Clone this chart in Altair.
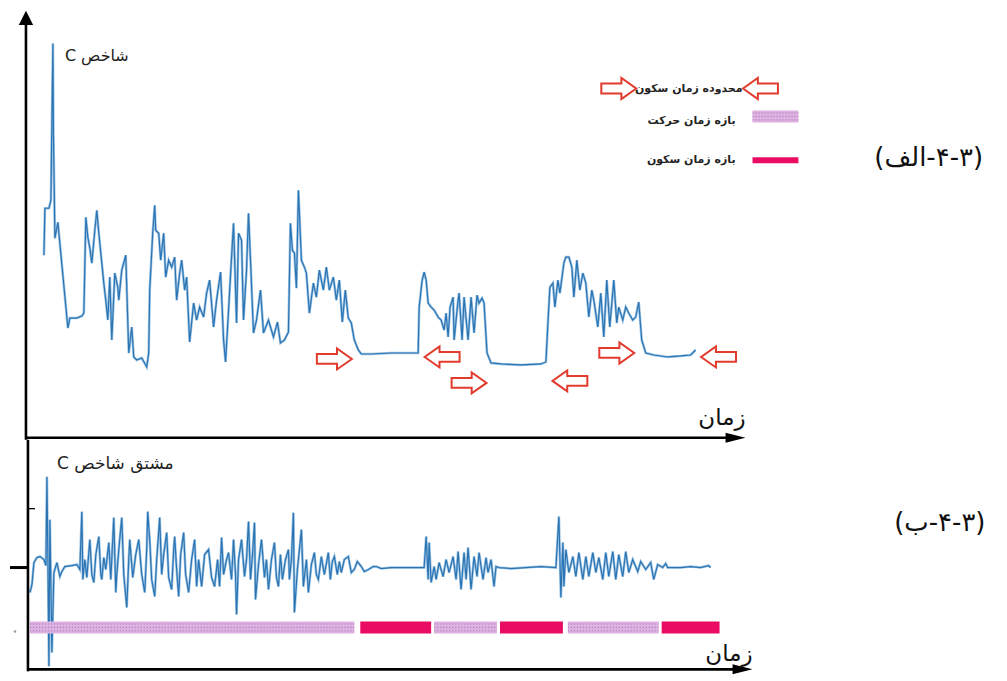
import altair as alt
import pandas as pd

# ---------------- data ----------------
# upper panel: index C over time (time in arbitrary units, C above the time axis)
top_t = [42, 43, 47, 49, 51, 51.5, 53, 56, 57, 66, 68, 75, 80, 82, 84, 86, 88, 90, 93, 95,
         97, 100, 102, 104, 106, 108, 110, 113, 116, 117, 120, 124, 127, 130, 132, 135, 140, 145, 147, 148,
         151, 153, 154, 157, 159, 162, 164, 167, 170, 173, 175, 178, 180, 183, 185, 188, 192, 195, 198, 202,
         205, 208, 212, 215, 219, 222, 224, 227, 230, 232, 235, 237, 240, 242, 245, 247, 249, 252, 255, 259,
         262, 267, 272, 276, 279, 283, 287, 289, 291, 293, 295, 297, 300, 303, 305, 308, 312, 315, 318, 322,
         325, 328, 332, 335, 338, 341, 344, 347, 350, 353, 357, 360, 370, 390, 417,
         418, 421, 423, 425, 427, 430, 433, 437, 440, 443, 445, 447, 449, 452, 453, 457, 458, 461, 463, 467,
         470, 473, 476, 478, 481, 483, 486, 490, 500, 520, 540, 545,
         547, 549, 552, 554, 557, 559, 563, 565, 568, 571, 573, 576, 579, 582, 585, 588, 591, 593, 597, 600,
         603, 606, 609, 613, 616, 618, 622, 625, 628, 632, 635, 638, 641, 645, 653, 667, 680, 690, 695]
top_c = [183, 230, 230, 238, 395, 308, 200, 216, 205, 110, 120, 120, 122, 125, 221, 201, 190, 175, 208, 228,
         205, 175, 155, 138, 118, 161, 98, 165, 151, 138, 168, 183, 85, 111, 81, 78, 80, 71, 85, 148,
         205, 233, 208, 205, 178, 205, 161, 178, 171, 181, 138, 165, 178, 148, 161, 96, 135, 118, 131, 121,
         145, 158, 111, 138, 166, 98, 76, 128, 181, 215, 115, 205, 198, 118, 168, 225, 178, 105, 118, 148,
         105, 118, 101, 116, 95, 98, 106, 215, 188, 185, 150, 248, 178, 171, 165, 125, 155, 141, 168, 148,
         171, 148, 161, 138, 158, 116, 148, 120, 115, 98, 88, 84, 84, 85, 85,
         131, 158, 166, 158, 135, 131, 128, 121, 118, 108, 125, 101, 131, 141, 98, 138, 145, 98, 141, 98,
         141, 105, 143, 135, 140, 135, 85, 75, 74, 73, 74, 76,
         115, 151, 155, 131, 158, 145, 175, 181, 181, 171, 141, 178, 148, 165, 155, 121, 148, 138, 111, 145,
         101, 158, 111, 158, 115, 131, 118, 131, 125, 118, 121, 136, 98, 85, 83, 81, 82, 83, 88]

# lower panel: derivative of index C (zero at the middle tick)
bot_t = [28, 30, 32, 35, 38, 42, 44, 45, 46, 47, 48, 50, 52, 55, 58, 60, 63, 70, 75, 78,
         80, 81, 83, 85, 88, 90, 92, 94, 97, 99, 100, 102, 104, 107, 109, 112, 114, 115, 117, 120,
         122, 125, 127, 128, 131, 134, 137, 140, 143, 145, 146, 148, 150, 153, 155, 158, 160, 162, 165, 167,
         170, 172, 173, 175, 177, 179, 182, 184, 187, 190, 193, 195, 197, 200, 203, 207, 210, 213, 216, 218,
         220, 222, 225, 227, 230, 232, 234, 235, 237, 240, 243, 245, 247, 249, 251, 253, 254, 257, 260, 263,
         265, 267, 270, 273, 275, 277, 279, 281, 284, 287, 288, 290, 292, 293, 296, 300, 302, 305, 307, 310,
         313, 315, 317, 320, 323, 327, 329, 331, 333, 336, 338, 340, 343, 347, 350, 353, 356, 360, 363, 367,
         372, 375, 380, 390, 400, 410, 423,
         425, 427, 428, 430, 433, 435, 438, 442, 445, 448, 452, 455, 457, 460, 463, 465, 467, 470, 473, 476,
         478, 482, 485, 487, 490, 493, 495, 498, 510, 525, 540, 555,
         558, 560, 562, 563, 565, 568, 572, 575, 578, 582, 585, 588, 592, 595, 598, 602, 605, 608, 612, 615,
         618, 622, 625, 628, 632, 637, 640, 645, 650, 653, 657, 662, 665, 667, 680, 690, 700, 708, 710]
bot_d = [-25, -17, 5, 10, 11, 8, 2, 91, 8, -99, 48, -85, -5, 5, -9, -4, 1, 2, 3, -2,
         56, -12, 8, -10, 28, -7, -15, 13, 31, -7, -12, 10, -2, 25, -12, 50, -25, -7, 18, 50,
         -7, -40, 8, 28, -10, 13, 28, -7, -25, 18, 56, 28, -12, -29, 8, 50, -7, 13, 35, -10,
         -22, 18, 31, -2, -29, 13, 35, -7, -25, 8, 28, -19, 8, -19, 13, 18, -10, -19, 8, -19,
         30, -7, 8, 15, -12, 28, -7, -47, 8, 28, -9, 8, 46, -12, 13, 45, -32, 3, 28, -10,
         8, -22, 8, 25, -10, -19, 13, -12, 8, 18, -12, 8, 55, -45, -2, 38, -19, 8, -25, 3,
         15, -7, -12, 11, -7, 15, -12, 6, 11, -7, 6, -5, 8, 11, -5, -2, 6, 1, -4, -2,
         1, 1, -1, 0, 0, 0, 0,
         31, -12, 25, -15, 1, -12, 5, -9, 8, -5, 11, -12, 16, -22, 15, -12, 20, -22, 11, -9,
         15, -12, 10, -5, 8, -19, 1, 0, -1, 0, 1, 0,
         51, -30, 25, -19, 18, -5, 11, -9, 15, -12, 11, -9, 15, -5, 10, -12, 15, -9, 16, -12,
         13, -9, 16, -5, 8, -4, 6, -2, 5, -12, 3, 0, 4, 0, 0, 1, 0, 2, 0]

# motion / rest intervals on the time axis
seg_start = [28, 359, 433, 499, 567, 661]
seg_end = [353, 430, 496, 562, 658, 719]
seg_kind = ["motion", "rest", "motion", "rest", "motion", "rest"]

# boundary markers of the rest intervals
marker_t = [333, 441, 468, 569, 616, 718]
marker_c = [79, 81, 55, 57, 85, 81]
marker_dir = ["right", "left", "right", "left", "right", "left"]

# texts
lbl_top = "C شاخص"
lbl_bot = "C مشتق شاخص"
lbl_time = "زمان"
lbl_fig_a = "(الف\u200e-۴-۳)"
lbl_fig_b = "(ب\u200e-۴-۳)"
leg_marker = "محدوده زمان سکون"
leg_motion = "بازه زمان حرکت"
leg_rest = "بازه زمان سکون"

# ---------------- styling ----------------
FONT = "DejaVu Sans"
BLUE = "#2A74B3"
HALO = "#9FC5E4"
RED = "#E23B2E"
REST = "#EA0B63"
MOTION = "#DDB1E0"
RIGHT = "M-1,-0.28L0.15,-0.28L0.15,-0.6L1,0L0.15,0.6L0.15,0.28L-1,0.28Z"
LEFT = "M1,-0.28L-0.15,-0.28L-0.15,-0.6L-1,0L-0.15,0.6L-0.15,0.28L1,0.28Z"
HEAD_UP = "M0,-1L0.9,0.8L-0.9,0.8Z"
HEAD_RIGHT = "M1,0L-1,-0.5L-1,0.5Z"

XS = alt.Scale(domain=[8, 999], nice=False, zero=False)
YS_TOP = alt.Scale(domain=[-2, 430], nice=False, zero=False)
YS_BOT = alt.Scale(domain=[-104, 128], nice=False, zero=False)


def xy(ys):
    return dict(x=alt.X("t:Q", scale=XS, axis=None), y=alt.Y("v:Q", scale=ys, axis=None))


def line_layers(ts, vs, ys):
    df = pd.DataFrame({"t": ts, "v": vs, "i": range(len(ts))})
    base = alt.Chart(df).encode(order=alt.Order("i:Q"), **xy(ys))
    return [base.mark_line(color=HALO, strokeWidth=2.6),
            base.mark_line(color=BLUE, strokeWidth=1.2)]


def rules(rows, ys, **style):
    df = pd.DataFrame(rows, columns=["t", "v", "t2", "v2"])
    return alt.Chart(df).mark_rule(**style).encode(
        x2=alt.X2("t2:Q"), y2=alt.Y2("v2:Q"), **xy(ys))


def points(rows, ys, **style):
    df = pd.DataFrame(rows, columns=["t", "v"])
    return alt.Chart(df).mark_point(**style).encode(**xy(ys))


def texts(rows, ys, **style):
    df = pd.DataFrame(rows, columns=["t", "v", "txt"])
    return alt.Chart(df).mark_text(font=FONT, baseline="middle", **style).encode(
        text="txt:N", **xy(ys))


def rects(rows, ys, **style):
    df = pd.DataFrame(rows, columns=["t", "v", "t2", "v2"])
    return alt.Chart(df).mark_rect(**style).encode(
        x2=alt.X2("t2:Q"), y2=alt.Y2("v2:Q"), **xy(ys))


def dotted(rows, levels, ys):
    return rules([(a, lv, b, lv) for a, b in rows for lv in levels], ys,
                 color="#B07CC0", strokeWidth=1, strokeDash=[1.2, 1.8])


arrow_style = dict(size=1225, fill="white", fillOpacity=1, stroke=RED, strokeWidth=2, opacity=1)

# ---------------- upper panel ----------------
mk = pd.DataFrame({"t": marker_t, "v": marker_c, "dir": marker_dir})
top_layers = line_layers(top_t, top_c, YS_TOP) + [
    points(mk[mk.dir == "right"][["t", "v"]].values.tolist(), YS_TOP, shape=RIGHT, **arrow_style),
    points(mk[mk.dir == "left"][["t", "v"]].values.tolist(), YS_TOP, shape=LEFT, **arrow_style),
    # axes
    rules([(24, -2, 24, 418), (24, 0, 730, 0)], YS_TOP, color="black", strokeWidth=2.6),
    points([(24, 420)], YS_TOP, shape=HEAD_UP, size=256, filled=True, color="black", opacity=1),
    points([(735, 0)], YS_TOP, shape=HEAD_RIGHT, size=400, filled=True, color="black", opacity=1),
    # legend
    points([(618, 350)], YS_TOP, shape=RIGHT, **arrow_style),
    points([(760, 350)], YS_TOP, shape=LEFT, **arrow_style),
    rects([(752, 316, 798, 328)], YS_TOP, color=MOTION),
    dotted([(752, 798)], (318.5, 322, 325.5), YS_TOP),
    rects([(752, 275, 798, 281)], YS_TOP, color=REST),
    texts([(742, 350, leg_marker)], YS_TOP, align="right", fontSize=11, fontWeight="bold", color="#222"),
    texts([(735, 317, leg_motion), (735, 278, leg_rest)], YS_TOP, align="right",
          fontSize=11, fontWeight="bold", color="#222"),
    # labels
    texts([(63, 383, lbl_top)], YS_TOP, align="left", fontSize=16, color="#222"),
    texts([(745, 20, lbl_time)], YS_TOP, align="right", fontSize=23, color="#111"),
    texts([(874, 280, lbl_fig_a)], YS_TOP, align="left", fontSize=26, color="#111"),
]
top = alt.layer(*top_layers).properties(width=991, height=432)

# ---------------- lower panel ----------------
seg = pd.DataFrame({"t": seg_start, "t2": seg_end, "kind": seg_kind})
motion_rows = seg[seg.kind == "motion"][["t", "t2"]].values.tolist()
rest_rows = seg[seg.kind == "rest"][["t", "t2"]].values.tolist()

bot_layers = line_layers(bot_t, bot_d, YS_BOT) + [
    rects([(a, -54, b, -66) for a, b in motion_rows], YS_BOT, color=MOTION),
    dotted(motion_rows, (-56.5, -60, -63.5), YS_BOT),
    rects([(a, -54, b, -66) for a, b in rest_rows], YS_BOT, color=REST),
    # axes
    rules([(26, 128, 26, -104), (26, -102, 735, -102)], YS_BOT, color="black", strokeWidth=2.6),
    points([(742, -102)], YS_BOT, shape=HEAD_RIGHT, size=400, filled=True, color="black", opacity=1),
    rules([(8, 0, 27, 0)], YS_BOT, color="black", strokeWidth=3),
    rules([(26, 59, 33, 59)], YS_BOT, color="black", strokeWidth=1.3),
    points([(13, -64)], YS_BOT, size=6, filled=True, color="#999", opacity=1),
    # labels
    texts([(55, 104, lbl_bot)], YS_BOT, align="left", fontSize=17, color="#222"),
    texts([(752, -87, lbl_time)], YS_BOT, align="right", fontSize=23, color="#111"),
    texts([(894, 45, lbl_fig_b)], YS_BOT, align="left", fontSize=26, color="#111"),
]
bottom = alt.layer(*bot_layers).properties(width=991, height=232)

chart = alt.vconcat(top, bottom, spacing=0, bounds="flush").properties(
    padding=0, background="white"
).configure_view(stroke=None)

chart.save("out.html", embed_options={"renderer": "svg", "actions": False})
